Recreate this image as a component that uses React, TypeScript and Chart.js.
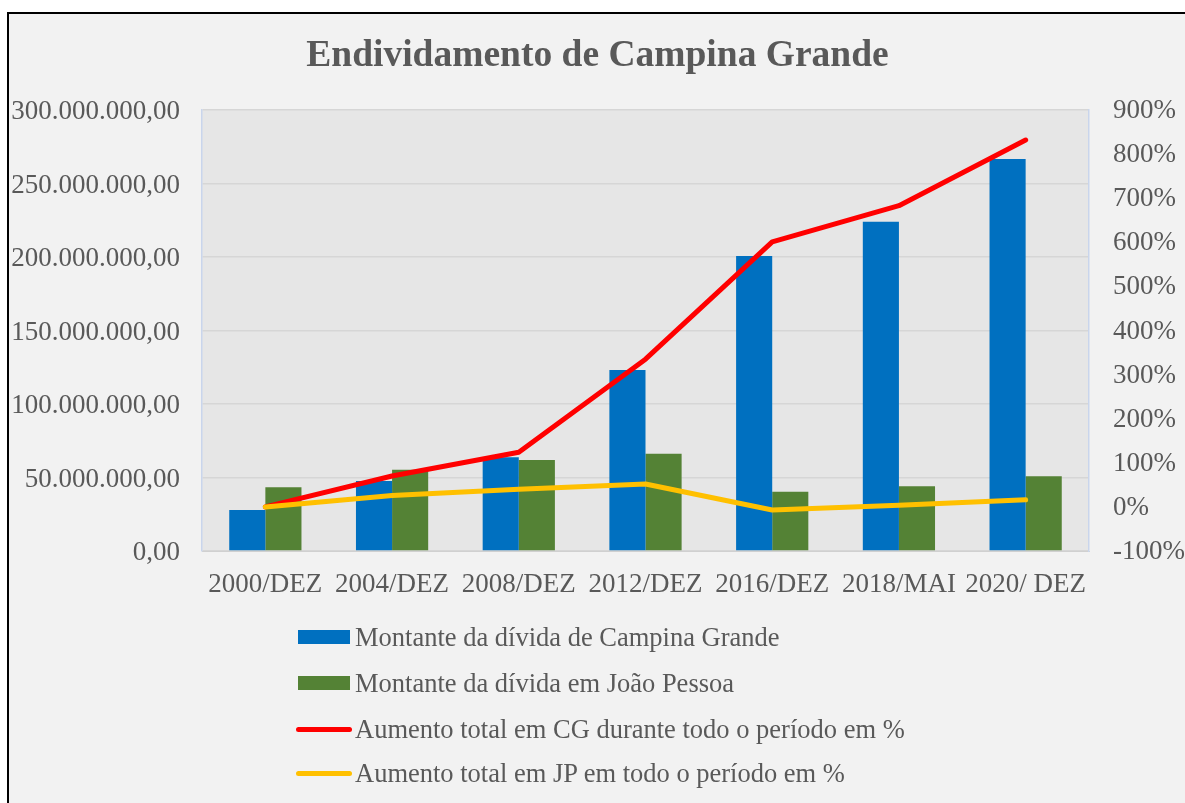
import React, { useEffect, useRef } from 'react';
import { Chart, registerables } from 'chart.js';

Chart.register(...registerables);

const categories = ['2000/DEZ', '2004/DEZ', '2008/DEZ', '2012/DEZ', '2016/DEZ', '2018/MAI', '2020/ DEZ'];
const cgDebt = [27.9e6, 47.6e6, 63.7e6, 123.1e6, 200.7e6, 224.0e6, 266.7e6];
const jpDebt = [43.3e6, 55.3e6, 61.9e6, 66.2e6, 40.3e6, 44.0e6, 50.8e6];
const cgIncrease = [0, 70, 124, 335, 601, 683, 832];
const jpIncrease = [0, 26, 40, 52, -7, 4, 16];

const seriesNames = [
  'Montante da dívida de Campina Grande',
  'Montante da dívida em João Pessoa',
  'Aumento total em CG durante todo o período em %',
  'Aumento total em JP em todo o período em %',
];
const titleText = 'Endividamento de Campina Grande';

const BLUE = '#0070C0';
const GREEN = '#548235';
const RED = '#FF0000';
const YELLOW = '#FFC000';
const TEXT = '#595959';
const FONT = "'Liberation Serif', 'Times New Roman', serif";

function fmtBR(v: number): string {
  const int = Math.round(v).toString();
  return int.replace(/\B(?=(\d{3})+(?!\d))/g, '.') + ',00';
}

const plotBg = {
  id: 'plotBg',
  beforeDraw(chart: any) {
    const { ctx, chartArea } = chart;
    const { left, top, right, bottom } = chartArea;
    ctx.save();
    ctx.fillStyle = '#e6e6e6';
    ctx.fillRect(left, top, right - left, bottom - top);
    ctx.restore();
  },
};

export default function App() {
  const ref = useRef<HTMLCanvasElement | null>(null);

  useEffect(() => {
    if (!ref.current) return;
    const tickFont = { family: FONT, size: 27 };
    const chart = new Chart(ref.current, {
      type: 'bar',
      data: {
        labels: categories,
        datasets: [
          {
            type: 'line',
            label: seriesNames[3],
            data: jpIncrease,
            yAxisID: 'y1',
            borderColor: YELLOW,
            backgroundColor: YELLOW,
            borderWidth: 5,
            pointRadius: 0,
            borderCapStyle: 'round',
            borderJoinStyle: 'round',
            tension: 0,
            order: 0,
          } as any,
          {
            type: 'line',
            label: seriesNames[2],
            data: cgIncrease,
            yAxisID: 'y1',
            borderColor: RED,
            backgroundColor: RED,
            borderWidth: 5,
            pointRadius: 0,
            borderCapStyle: 'round',
            borderJoinStyle: 'round',
            tension: 0,
            order: 1,
          } as any,
          {
            type: 'bar',
            label: seriesNames[0],
            data: cgDebt,
            yAxisID: 'y',
            backgroundColor: BLUE,
            borderWidth: 0,
            barPercentage: 1,
            categoryPercentage: 0.57,
            order: 2,
          } as any,
          {
            type: 'bar',
            label: seriesNames[1],
            data: jpDebt,
            yAxisID: 'y',
            backgroundColor: GREEN,
            borderWidth: 0,
            barPercentage: 1,
            categoryPercentage: 0.57,
            order: 3,
          } as any,
        ],
      },
      options: {
        responsive: false,
        animation: false,
        devicePixelRatio: 1,
        layout: { padding: { left: 0, right: 0, top: 0, bottom: 192 } },
        plugins: {
          legend: { display: false },
          tooltip: { enabled: false },
          title: {
            display: true,
            text: titleText,
            color: TEXT,
            font: { family: FONT, size: 37.5, weight: 'bold' },
            padding: { top: 34, bottom: 31 },
          },
        },
        scales: {
          x: {
            grid: { display: false, drawTicks: false },
            border: { display: true, color: '#d0d0d0', width: 1 },
            ticks: { font: tickFont, color: TEXT, padding: 18, maxRotation: 0, autoSkip: false },
            afterFit: (s: any) => { s.height = 60; },
          },
          y: {
            position: 'left',
            min: 0,
            max: 300e6,
            ticks: { stepSize: 50e6, font: tickFont, color: TEXT, padding: 22, labelOffset: 2, callback: (v: any) => fmtBR(Number(v)) },
            grid: { color: '#d6d6d6', lineWidth: 1.5, drawTicks: false },
            border: { display: true, color: '#c9d5ec', width: 1.5 },
            afterFit: (s: any) => { s.width = 202; },
          },
          y1: {
            position: 'right',
            min: -100,
            max: 900,
            ticks: { stepSize: 100, font: tickFont, color: TEXT, padding: 24, labelOffset: 1, callback: (v: any) => v + '%' },
            grid: { display: false, drawTicks: false },
            border: { display: true, color: '#c9d5ec', width: 1.5 },
            afterFit: (s: any) => { s.width = 106; },
          },
        },
      } as any,
      plugins: [plotBg],
    });
    return () => chart.destroy();
  }, []);

  const legendRows = [
    { name: seriesNames[0], color: BLUE, kind: 'bar', y: 637 },
    { name: seriesNames[1], color: GREEN, kind: 'bar', y: 683 },
    { name: seriesNames[2], color: RED, kind: 'line', y: 729 },
    { name: seriesNames[3], color: YELLOW, kind: 'line', y: 773 },
  ];

  return (
    <div style={{ position: 'absolute', left: 0, top: 0, width: 1185, height: 803, overflow: 'hidden', background: '#ffffff' }}>
      <div style={{ position: 'absolute', left: 7, top: 12, width: 1200, height: 820, border: '2px solid #000', background: '#f2f2f2', boxSizing: 'border-box' }} />
      <canvas ref={ref} width={1195} height={803} style={{ position: 'absolute', left: 0, top: 0, width: 1195, height: 803 }} />
      {legendRows.map((r) => (
        <div key={r.name} style={{ position: 'absolute', left: 296, top: r.y - 16, height: 32, display: 'flex', alignItems: 'center', whiteSpace: 'nowrap' }}>
          {r.kind === 'bar' ? (
            <div style={{ width: 52, height: 14, marginLeft: 2, marginRight: 5, background: r.color }} />
          ) : (
            <div style={{ width: 56, height: 5, borderRadius: 3, marginRight: 3, background: r.color }} />
          )}
          <span style={{ fontFamily: FONT, fontSize: 26.5, color: TEXT, lineHeight: '32px' }}>{r.name}</span>
        </div>
      ))}
    </div>
  );
}
